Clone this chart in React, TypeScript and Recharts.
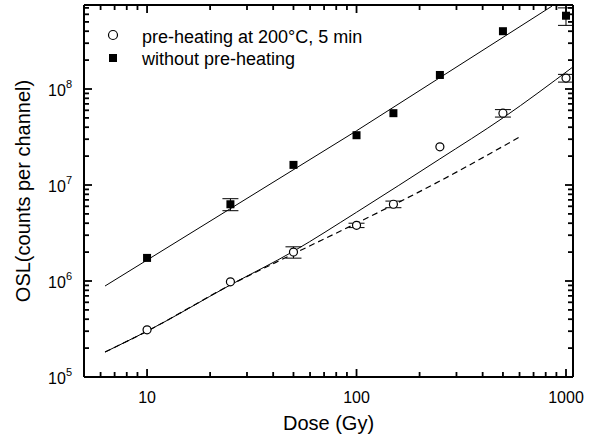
import { ComposedChart, ErrorBar, Label, Line, Scatter, XAxis, YAxis } from "recharts";

const FONT = "'Liberation Sans', Arial, Helvetica, sans-serif";

// measured points
const doses = [10, 25, 50, 100, 150, 250, 500, 1000];
const preHeated = [3.1e5, 9.8e5, 2.0e6, 3.8e6, 6.3e6, 2.5e7, 5.6e7, 1.3e8];
const preHeatedErr = [0, 0, 2.7e5, 2e5, 5e5, 0, 5e6, 1.2e7];
const noPreHeat = [1.74e6, 6.3e6, 1.62e7, 3.3e7, 5.6e7, 1.4e8, 4.0e8, 5.8e8];
const noPreHeatErr = [0, 9e5, 0, 0, 0, 0, 0, 1.2e8];

// fitted curves
const upperFitDose = [6.3, 100, 857];
const upperFit = [8.87e5, 3.67e7, 7.3e8];
const lowerFitDose = [6.3, 10, 25, 50, 100, 250, 500, 1080];
const lowerFit = [1.82e5, 3.0e5, 9.1e5, 2.04e6, 5.2e6, 1.87e7, 5.0e7, 1.7e8];
const linearDose = [6.3, 10, 25, 50, 100, 250, 600];
const linearFit = [1.82e5, 3.0e5, 9.1e5, 1.92e6, 4.0e6, 1.1e7, 3.16e7];

// axes
const doseMajor = [10, 100, 1000];
const doseLabels = ["10", "100", "1000"];
const oslMajor = [1e5, 1e6, 1e7, 1e8];
const oslExponents = ["5", "6", "7", "8"];
const mantissas = [1, 2, 3, 4, 5, 6, 7, 8, 9];

const doseTicks = [1, 10, 100]
  .flatMap((d) => mantissas.map((m) => m * d))
  .filter((v) => v >= 6)
  .concat([1000]);
const oslTicks = oslMajor
  .flatMap((d) => mantissas.map((m) => m * d))
  .filter((v) => v <= 7e8);

const zip = (xs: number[], ys: number[], err?: number[]) =>
  xs.map((x, i) => ({ x, y: ys[i], err: err ? err[i] : 0 }));

const preData = zip(doses, preHeated, preHeatedErr);
const noPreData = zip(doses, noPreHeat, noPreHeatErr);
const upperData = zip(upperFitDose, upperFit);
const lowerData = zip(lowerFitDose, lowerFit);
const linearData = zip(linearDose, linearFit);

const isIn = (arr: number[], v: number) => arr.findIndex((a) => Math.abs(a - v) / a < 1e-6);

const TICK_MAJOR = 8;
const TICK_MINOR = 5;
const TICK_W = 1.8;

// ticks point into the plot, labels sit outside
function BottomTick({ x, y, payload }: any) {
  const i = isIn(doseMajor, payload.value);
  const len = i >= 0 ? TICK_MAJOR : TICK_MINOR;
  return (
    <g>
      <path d={`M${x},${y}V${y - len}`} stroke="#000" strokeWidth={TICK_W} />
      {i >= 0 && (
        <text x={x} y={y + 26} textAnchor="middle" fontSize={16} fontFamily={FONT} fill="#000">
          {doseLabels[i]}
        </text>
      )}
    </g>
  );
}

function TopTick({ x, y, payload }: any) {
  const len = isIn(doseMajor, payload.value) >= 0 ? TICK_MAJOR : TICK_MINOR;
  return <path d={`M${x},${y}V${y + len}`} stroke="#000" strokeWidth={TICK_W} />;
}

function LeftTick({ x, y, payload }: any) {
  const i = isIn(oslMajor, payload.value);
  const len = i >= 0 ? TICK_MAJOR : TICK_MINOR;
  return (
    <g>
      <path d={`M${x},${y}H${x + len}`} stroke="#000" strokeWidth={TICK_W} />
      {i >= 0 && (
        <text x={x - 12} y={y + 7} textAnchor="end" fontSize={16} fontFamily={FONT} fill="#000">
          10
          <tspan dy={-8} fontSize={11}>
            {oslExponents[i]}
          </tspan>
        </text>
      )}
    </g>
  );
}

function RightTick({ x, y, payload }: any) {
  const len = isIn(oslMajor, payload.value) >= 0 ? TICK_MAJOR : TICK_MINOR;
  return <path d={`M${x},${y}H${x - len}`} stroke="#000" strokeWidth={TICK_W} />;
}

const XTitle = ({ viewBox }: any) => (
  <text
    x={viewBox.x + viewBox.width / 2}
    y={viewBox.y + 53}
    textAnchor="middle"
    fontSize={20}
    fontFamily={FONT}
    fill="#000"
  >
    Dose (Gy)
  </text>
);

const YTitle = ({ viewBox }: any) => {
  const cx = viewBox.x + 30;
  const cy = viewBox.y + viewBox.height / 2;
  return (
    <text
      x={cx}
      y={cy}
      transform={`rotate(-90, ${cx}, ${cy})`}
      textAnchor="middle"
      fontSize={20}
      fontFamily={FONT}
      fill="#000"
    >
      OSL(counts per channel)
    </text>
  );
};

const OpenCircle = ({ cx, cy }: any) => (
  <circle cx={cx} cy={cy} r={4} fill="#fff" stroke="#000" strokeWidth={1.2} />
);
const FilledSquare = ({ cx, cy }: any) => (
  <rect x={cx - 4} y={cy - 4} width={8} height={8} fill="#000" />
);

const axisLine = { stroke: "#000", strokeWidth: 2 };

export default function App() {
  return (
    <div style={{ position: "absolute", left: 0, top: 0, width: 595, height: 441, background: "#fff" }}>
      <ComposedChart width={595} height={441} margin={{ top: 4, right: 21, bottom: 0, left: 0 }}>
        <XAxis
          xAxisId="b"
          dataKey="x"
          type="number"
          scale="log"
          domain={[5, 1080]}
          allowDataOverflow
          ticks={doseTicks}
          interval={0}
          tickSize={0}
          tickMargin={0}
          tickLine={false}
          axisLine={axisLine}
          tick={(p: any) => <BottomTick {...p} />}
          height={64}
        >
          <Label content={XTitle} />
        </XAxis>
        <XAxis
          xAxisId="t"
          orientation="top"
          dataKey="x"
          type="number"
          scale="log"
          domain={[5, 1080]}
          allowDataOverflow
          ticks={doseTicks}
          interval={0}
          tickSize={0}
          tickMargin={0}
          tickLine={false}
          axisLine={axisLine}
          tick={(p: any) => <TopTick {...p} />}
          height={1}
        />
        <YAxis
          yAxisId="l"
          dataKey="y"
          type="number"
          scale="log"
          domain={[1e5, 7.5e8]}
          allowDataOverflow
          ticks={oslTicks}
          interval={0}
          tickSize={0}
          tickMargin={0}
          tickLine={false}
          axisLine={axisLine}
          tick={(p: any) => <LeftTick {...p} />}
          width={84}
        >
          <Label content={YTitle} />
        </YAxis>
        <YAxis
          yAxisId="r"
          orientation="right"
          dataKey="y"
          type="number"
          scale="log"
          domain={[1e5, 7.5e8]}
          allowDataOverflow
          ticks={oslTicks}
          interval={0}
          tickSize={0}
          tickMargin={0}
          tickLine={false}
          axisLine={axisLine}
          tick={(p: any) => <RightTick {...p} />}
          width={1}
        />

        {/* invisible twin so the top and right frame axes have a series */}
        <Line
          xAxisId="t"
          yAxisId="r"
          data={upperData}
          dataKey="y"
          stroke="none"
          dot={false}
          activeDot={false}
          legendType="none"
          isAnimationActive={false}
        />
        <Line
          xAxisId="b"
          yAxisId="l"
          data={upperData}
          dataKey="y"
          type="linear"
          stroke="#000"
          strokeWidth={1}
          dot={false}
          activeDot={false}
          isAnimationActive={false}
        />
        <Line
          xAxisId="b"
          yAxisId="l"
          data={lowerData}
          dataKey="y"
          type="monotone"
          stroke="#000"
          strokeWidth={1}
          dot={false}
          activeDot={false}
          isAnimationActive={false}
        />
        <Line
          xAxisId="b"
          yAxisId="l"
          data={linearData}
          dataKey="y"
          type="monotone"
          stroke="#000"
          strokeWidth={1.2}
          strokeDasharray="6 4"
          dot={false}
          activeDot={false}
          isAnimationActive={false}
        />
        <Scatter
          xAxisId="b"
          yAxisId="l"
          data={preData}
          dataKey="y"
          shape={OpenCircle}
          isAnimationActive={false}
        >
          <ErrorBar dataKey="err" direction="y" width={8} stroke="#000" strokeWidth={1} />
        </Scatter>
        <Scatter
          xAxisId="b"
          yAxisId="l"
          data={noPreData}
          dataKey="y"
          shape={FilledSquare}
          isAnimationActive={false}
        >
          <ErrorBar dataKey="err" direction="y" width={8} stroke="#000" strokeWidth={1} />
        </Scatter>
      </ComposedChart>

      <div
        style={{
          position: "absolute",
          left: 104,
          top: 26,
          fontFamily: FONT,
          fontSize: 18,
          lineHeight: "22px",
          color: "#000",
        }}
      >
        <div style={{ display: "flex", height: 22 }}>
          <svg width={38} height={22}>
            <circle cx={9} cy={9} r={4.5} fill="#fff" stroke="#000" strokeWidth={1.2} />
          </svg>
          <span>pre-heating at 200°C, 5 min</span>
        </div>
        <div style={{ display: "flex", height: 22 }}>
          <svg width={38} height={22}>
            <rect x={5} y={6} width={8} height={8} fill="#000" />
          </svg>
          <span>without pre-heating</span>
        </div>
      </div>
    </div>
  );
}
